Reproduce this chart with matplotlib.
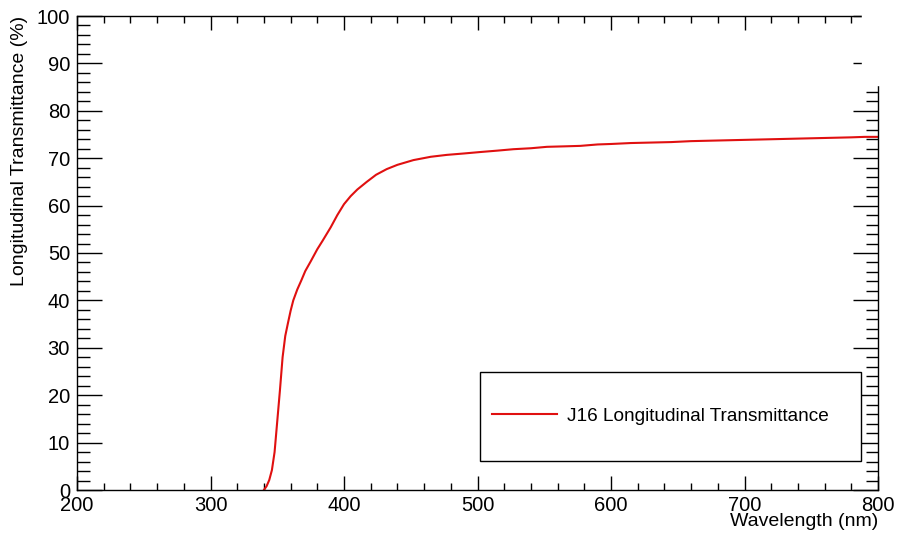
import matplotlib.pyplot as plt
from matplotlib.patches import Rectangle
from matplotlib.ticker import MultipleLocator

plt.rcParams["font.family"] = ["Liberation Sans", "DejaVu Sans"]

# J16 longitudinal transmittance
wavelength = [340, 342, 344, 346, 348, 350, 352, 354, 356, 358, 360, 362,
              365, 368, 371, 375, 380, 384, 390, 395, 400, 405, 410, 417,
              424, 432, 440, 452, 465, 477, 490, 502, 515, 527, 540, 552,
              565, 577, 590, 600, 615, 630, 645, 660, 675, 690, 705, 720,
              735, 750, 765, 780, 790, 800]
transmittance = [0.0, 0.8, 2.1, 4.2, 8.0, 14.5, 21.0, 28.0, 32.5, 35.2, 37.8,
                 40.0, 42.3, 44.2, 46.2, 48.2, 50.8, 52.6, 55.4, 58.0, 60.3,
                 62.0, 63.4, 65.0, 66.5, 67.7, 68.6, 69.6, 70.3, 70.7, 71.0,
                 71.3, 71.6, 71.9, 72.1, 72.4, 72.5, 72.6, 72.9, 73.0, 73.2,
                 73.3, 73.4, 73.6, 73.7, 73.8, 73.9, 74.0, 74.1, 74.2, 74.3,
                 74.4, 74.5, 74.5]

fig = plt.figure(figsize=(8.98, 5.34), dpi=100)
ax = fig.add_axes([77 / 898, 44 / 534, 801 / 898, 474 / 534])

ax.plot(wavelength, transmittance, color="#e01010", linewidth=1.5,
        label="J16 Longitudinal Transmittance")

ax.set_xlim(200, 800)
ax.set_ylim(0, 100)
ax.xaxis.set_major_locator(MultipleLocator(100))
ax.xaxis.set_minor_locator(MultipleLocator(20))
ax.yaxis.set_major_locator(MultipleLocator(10))
ax.yaxis.set_minor_locator(MultipleLocator(2))

ax.tick_params(which="both", direction="in", top=True, right=True,
               labelsize=14.5, width=1)
ax.tick_params(axis="x", which="major", length=10, pad=4)
ax.tick_params(axis="x", which="minor", length=5)
ax.tick_params(axis="y", which="major", length=18, pad=5)
ax.tick_params(axis="y", which="minor", length=9)
for sp in ax.spines.values():
    sp.set_linewidth(1)

ax.set_xlabel("Wavelength (nm)", fontsize=14, loc="right", labelpad=-1)
ax.set_ylabel("Longitudinal Transmittance (%)", fontsize=14, loc="top",
              labelpad=6)

# legend box drawn as in ROOT: wide frame, entry on the left
ax.add_patch(Rectangle((0.503, 0.061), 0.476, 0.188, transform=ax.transAxes,
                       facecolor="white", edgecolor="black", linewidth=1,
                       zorder=4))
ax.legend(loc="center left", bbox_to_anchor=(0.518, 0.156), fontsize=13.7,
          frameon=False, handlelength=3.4, handletextpad=0.57,
          borderpad=0, borderaxespad=0).set_zorder(5)

# the reference has its top-right corner blanked out
fig.add_artist(Rectangle((862 / 898, 1 - 85 / 534), 40 / 898, 90 / 534,
                         transform=fig.transFigure, color="white", zorder=10))

fig.savefig("out.png", dpi=100)
